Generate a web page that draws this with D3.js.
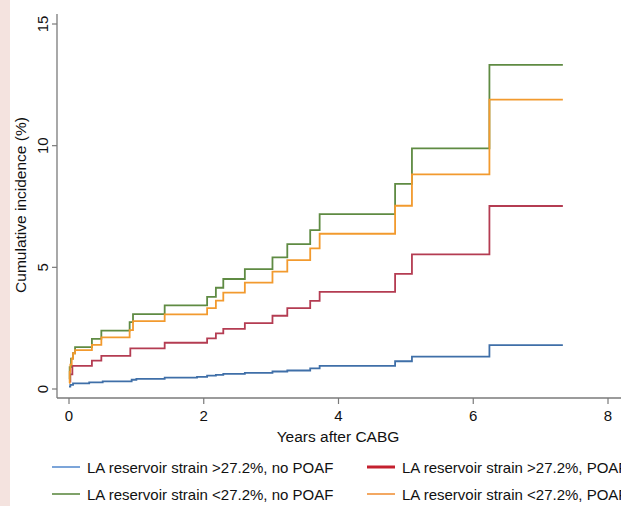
<!DOCTYPE html>
<html>
<head>
<meta charset="utf-8">
<script src="https://cdn.jsdelivr.net/npm/d3@7"></script>
<style>
  html, body { margin: 0; padding: 0; background: #fff; }
  svg { display: block; }
  text { font-family: "Liberation Sans", Arial, Helvetica, sans-serif; fill: #111; }
</style>
</head>
<body>
<script>
// ---- Data ----
const seriesNames = [
  "LA reservoir strain >27.2%, no POAF",
  "LA reservoir strain >27.2%, POAF",
  "LA reservoir strain <27.2%, no POAF",
  "LA reservoir strain <27.2%, POAF"
];
const lineColors = ["#3f6fa8", "#b43c52", "#5f8b43", "#f29a2e"];
const legendColors = ["#5b8fd0", "#c4202e", "#5f8b43", "#f0923a"];

const blueT  = [0, 0.02, 0.06, 0.3, 0.5, 0.93, 1.0, 1.42, 1.9, 2.05, 2.18, 2.29, 2.61, 3.02, 3.24, 3.58, 3.72, 4.84, 5.09, 6.24, 7.33];
const blueV  = [0.1, 0.17, 0.23, 0.27, 0.31, 0.38, 0.42, 0.47, 0.5, 0.55, 0.58, 0.62, 0.66, 0.72, 0.76, 0.85, 0.95, 1.14, 1.33, 1.80, 1.80];

const redT   = [0, 0.02, 0.05, 0.34, 0.48, 0.91, 1.42, 2.05, 2.18, 2.29, 2.61, 3.02, 3.24, 3.58, 3.72, 4.84, 5.09, 6.24, 7.33];
const redV   = [0.3, 0.6, 0.95, 1.17, 1.36, 1.67, 1.90, 2.08, 2.29, 2.47, 2.71, 3.01, 3.32, 3.62, 3.99, 4.73, 5.53, 7.52, 7.52];

const greenT = [0, 0.01, 0.03, 0.06, 0.09, 0.34, 0.48, 0.9, 0.95, 1.42, 2.05, 2.18, 2.29, 2.61, 3.02, 3.24, 3.58, 3.72, 4.84, 5.09, 6.24, 7.33];
const greenV = [0.4, 0.9, 1.25, 1.47, 1.72, 2.06, 2.40, 2.75, 3.08, 3.44, 3.79, 4.16, 4.52, 4.93, 5.41, 5.95, 6.53, 7.19, 8.43, 9.89, 13.32, 13.32];

const orangeT = [0, 0.01, 0.02, 0.04, 0.06, 0.09, 0.34, 0.48, 0.9, 0.95, 1.42, 2.05, 2.18, 2.29, 2.61, 3.02, 3.24, 3.58, 3.72, 4.84, 5.09, 6.24, 7.33];
const orangeV = [0.25, 0.7, 1.0, 1.25, 1.47, 1.60, 1.81, 2.12, 2.42, 2.79, 3.07, 3.32, 3.63, 3.96, 4.37, 4.82, 5.30, 5.78, 6.38, 7.53, 8.82, 11.89, 11.89];

const xTicks = [0, 2, 4, 6, 8];
const yTicks = [0, 5, 10, 15];
const xTitle = "Years after CABG";
const yTitle = "Cumulative incidence (%)";

// ---- Layout ----
const W = 621, H = 506;
const svg = d3.select("body").append("svg").attr("width", W).attr("height", H);

// pink strip on the left
svg.append("rect").attr("x", 0).attr("y", 0).attr("width", 10).attr("height", H).attr("fill", "#f4e3df");

const x = d3.scaleLinear().domain([0, 8]).range([69, 608]);
const y = d3.scaleLinear().domain([0, 15]).range([389, 24]);

const axisX0 = 57, axisY0 = 398;
const axisColor = "#7a7a7a";

// axes lines
svg.append("line").attr("x1", axisX0).attr("x2", axisX0).attr("y1", 14).attr("y2", axisY0)
  .attr("stroke", axisColor).attr("stroke-width", 1.3);
svg.append("line").attr("x1", axisX0).attr("x2", W).attr("y1", axisY0).attr("y2", axisY0)
  .attr("stroke", axisColor).attr("stroke-width", 1.3);

// y ticks and labels
const yg = svg.append("g");
yTicks.forEach(v => {
  yg.append("line").attr("x1", axisX0 - 5).attr("x2", axisX0).attr("y1", y(v)).attr("y2", y(v))
    .attr("stroke", axisColor).attr("stroke-width", 1.2);
  yg.append("text").attr("transform", `translate(${axisX0 - 9},${y(v)}) rotate(-90)`)
    .attr("text-anchor", "middle").attr("font-size", 15).text(v);
});

// x ticks and labels
const xg = svg.append("g");
xTicks.forEach(v => {
  xg.append("line").attr("x1", x(v)).attr("x2", x(v)).attr("y1", axisY0).attr("y2", axisY0 + 6)
    .attr("stroke", axisColor).attr("stroke-width", 1.2);
  xg.append("text").attr("x", x(v)).attr("y", 421).attr("text-anchor", "middle")
    .attr("font-size", 15).text(v);
});

// titles
svg.append("text").attr("x", 338).attr("y", 442).attr("text-anchor", "middle")
  .attr("font-size", 15.5).text(xTitle);
svg.append("text").attr("transform", "translate(26,205) rotate(-90)")
  .attr("text-anchor", "middle").attr("font-size", 15.5).text(yTitle);

// step lines
const series = [
  {t: blueT, v: blueV},
  {t: redT, v: redV},
  {t: greenT, v: greenV},
  {t: orangeT, v: orangeV}
];
const line = d3.line().x(d => x(d[0])).y(d => y(d[1])).curve(d3.curveStepAfter);
// draw order: blue, red, green, orange (orange on top)
series.forEach((s, i) => {
  const pts = s.t.map((t, k) => [t, s.v[k]]);
  svg.append("path").attr("d", line(pts)).attr("fill", "none")
    .attr("stroke", lineColors[i]).attr("stroke-width", 1.8);
});

// legend
const legendPos = [
  {lx: 52, ty: 467}, {lx: 367, ty: 467},
  {lx: 52, ty: 494}, {lx: 367, ty: 494}
];
seriesNames.forEach((name, i) => {
  const p = legendPos[i];
  svg.append("line").attr("x1", p.lx).attr("x2", p.lx + 28).attr("y1", p.ty).attr("y2", p.ty)
    .attr("stroke", legendColors[i]).attr("stroke-width", i === 1 ? 3 : 1.6);
  svg.append("text").attr("x", p.lx + 35).attr("y", p.ty + 5.5)
    .attr("font-size", 15).text(name);
});
</script>
</body>
</html>
